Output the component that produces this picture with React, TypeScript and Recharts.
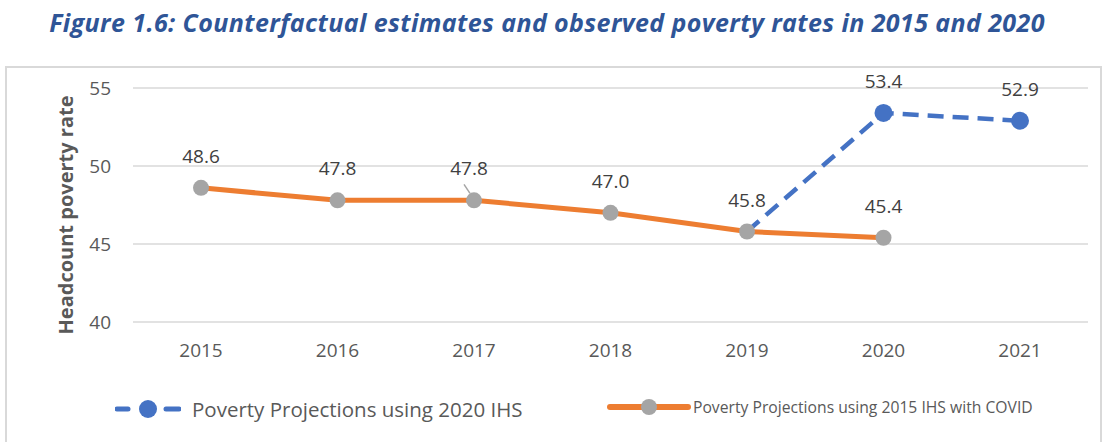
import { LineChart, Line, XAxis, YAxis, CartesianGrid, LabelList } from "recharts"

const years = ["2015", "2016", "2017", "2018", "2019", "2020", "2021"]
const ihs2020 = [null, null, null, null, 45.8, 53.4, 52.9]
const ihs2015Covid = [48.6, 47.8, 47.8, 47.0, 45.8, 45.4, null]
const yTicks = [40, 45, 50, 55]

const data = years.map((year, i) => ({ year, ihs2020: ihs2020[i], ihs2015Covid: ihs2015Covid[i] }))

const FONT = "'Open Sans', 'Noto Sans', sans-serif"
const BLUE = "#4472C4"
const ORANGE = "#ED7D31"
const GREY = "#A5A5A5"
const TEXT = "#595959"

const ValueLabel = ({ x, y, value, index, skip }: any) => {
  if (value == null || (skip && skip.includes(index))) return null
  // the 2017 label sits a little to the left with a short leader line
  const shifted = index === 2
  return (
    <g>
      {shifted && <line x1={x - 10} y1={y - 16} x2={x - 4} y2={y - 7} stroke={GREY} strokeWidth={1.5} />}
      <text x={shifted ? x - 5 : x} y={y - 25} textAnchor="middle" fontFamily={FONT} fontSize={19} fill="#404040">
        {Number(value).toFixed(1)}
      </text>
    </g>
  )
}

const BlueDot = ({ cx, cy, index }: any) => {
  if (cx == null || cy == null || index === 4) return null
  return <circle key={index} cx={cx} cy={cy} r={9} fill={BLUE} />
}

export default function App() {
  return (
    <div style={{ position: "fixed", top: 0, left: 0, width: 1108, height: 442, background: "#fff", overflow: "hidden" }}>
      <div
        style={{
          position: "absolute",
          top: 5,
          left: 0,
          width: 1094,
          textAlign: "center",
          fontFamily: FONT,
          fontWeight: 700,
          fontStyle: "italic",
          fontSize: 25,
          letterSpacing: 0.4,
          lineHeight: "34px",
          color: "#2F5597",
        }}
      >
        Figure 1.6: Counterfactual estimates and observed poverty rates in 2015 and 2020
      </div>
      <div style={{ position: "absolute", left: 5, top: 66, width: 1093, height: 420, border: "2px solid #d9d9d9" }} />

      <div style={{ position: "absolute", top: 0, left: 0 }}>
        <LineChart width={1108} height={442} data={data} margin={{ top: 88, right: 20, bottom: 90, left: 48 }}>
          <CartesianGrid vertical={false} stroke="#d9d9d9" strokeWidth={1.5} />
          <XAxis
            dataKey="year"
            padding={{ left: 68, right: 68 }}
            axisLine={false}
            tickLine={false}
            tickSize={0}
            tickMargin={22}
            height={30}
            tick={{ fill: TEXT, fontSize: 19, fontFamily: FONT }}
          />
          <YAxis
            domain={[40, 55]}
            ticks={yTicks}
            width={85}
            axisLine={false}
            tickLine={false}
            tickSize={0}
            tickMargin={22}
            tick={{ fill: TEXT, fontSize: 19, fontFamily: FONT }}
            label={{
              content: ({ viewBox }: any) => {
                const cx = viewBox.x + 17
                const cy = viewBox.y + viewBox.height / 2 + 10
                return (
                  <text
                    x={cx}
                    y={cy}
                    transform={`rotate(-90 ${cx} ${cy})`}
                    textAnchor="middle"
                    dominantBaseline="central"
                    fontFamily={FONT}
                    fontWeight={700}
                    fontSize={20}
                    fill={TEXT}
                  >
                    Headcount poverty rate
                  </text>
                )
              },
            }}
          />
          <Line
            dataKey="ihs2020"
            stroke={BLUE}
            strokeWidth={4.5}
            strokeDasharray="16 9"
            dot={<BlueDot />}
            activeDot={false}
            connectNulls={false}
            isAnimationActive={false}
          >
            <LabelList dataKey="ihs2020" content={(p: any) => <ValueLabel {...p} skip={[4]} />} />
          </Line>
          <Line
            dataKey="ihs2015Covid"
            stroke={ORANGE}
            strokeWidth={5}
            dot={{ r: 8, fill: GREY, stroke: "none" }}
            activeDot={false}
            isAnimationActive={false}
          >
            <LabelList dataKey="ihs2015Covid" content={(p: any) => <ValueLabel {...p} />} />
          </Line>
        </LineChart>
      </div>

      {/* legend */}
      <div style={{ position: "absolute", top: 395, left: 115, display: "flex", alignItems: "center", fontFamily: FONT, color: TEXT }}>
        <svg width={66} height={24}>
          <line x1={2} y1={12} x2={13} y2={12} stroke={BLUE} strokeWidth={5} strokeLinecap="round" />
          <circle cx={33} cy={12} r={9} fill={BLUE} />
          <line x1={51} y1={12} x2={64} y2={12} stroke={BLUE} strokeWidth={5} strokeLinecap="round" />
        </svg>
        <span style={{ marginLeft: 11, fontSize: 20.5 }}>Poverty Projections using 2020 IHS</span>
      </div>
      <div style={{ position: "absolute", top: 395, left: 607, display: "flex", alignItems: "center", fontFamily: FONT, color: TEXT }}>
        <svg width={84} height={24}>
          <line x1={3} y1={12} x2={81} y2={12} stroke={ORANGE} strokeWidth={6} strokeLinecap="round" />
          <circle cx={42} cy={12} r={8} fill={GREY} />
        </svg>
        <span style={{ marginLeft: 2, fontSize: 15.7 }}>Poverty Projections using 2015 IHS with COVID</span>
      </div>
    </div>
  )
}
